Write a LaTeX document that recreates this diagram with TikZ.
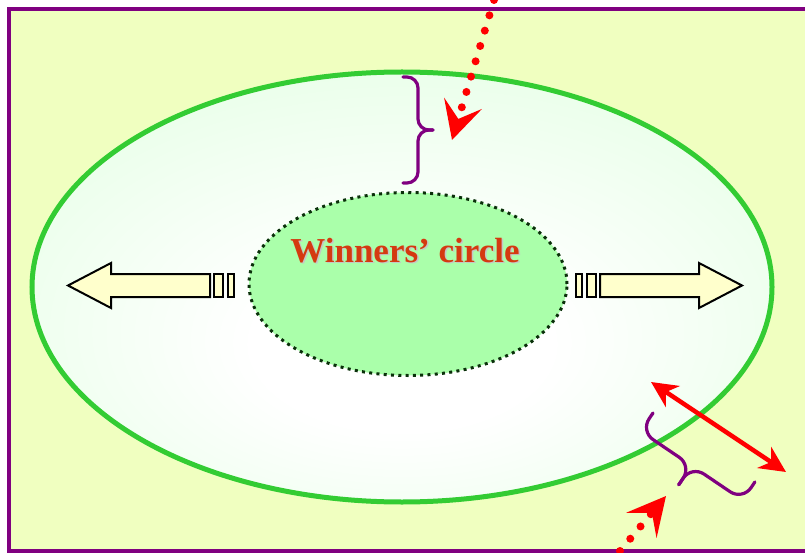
\documentclass[tikz,border=0pt]{standalone}
\usepackage{fontspec}
\setmainfont{Liberation Serif}
\usetikzlibrary{arrows.meta,shapes.geometric}
\definecolor{pagefill}{HTML}{F0FFC0}
\definecolor{framepurple}{HTML}{800080}
\definecolor{ringgreen}{HTML}{33CC33}
\definecolor{corefill}{HTML}{AAFFAA}
\definecolor{coredots}{HTML}{0A300A}
\definecolor{arrowfill}{HTML}{FFFFCC}
\definecolor{titlered}{HTML}{D43A10}
\pgfdeclareradialshading{ringglow}{\pgfpoint{0bp}{-8bp}}{color(0bp)=(white); color(10bp)=(white); color(44bp)=(green!14!white); color(60bp)=(green!17!white)}
\begin{document}
\begin{tikzpicture}[x=1pt, y=-1pt,
    brace line/.style={framepurple, line width=3.2pt, line cap=round},
    block/.style={fill=arrowfill, line width=2pt, line join=miter},
    dotted arrow/.style={red, line width=8pt, line cap=round, dash pattern=on 0pt off 16pt,
      -{Stealth[length=38pt, width=39pt, inset=16pt]}},
    swap arrow/.style={red, line width=4.5pt,
      {Stealth[length=26pt, width=25pt, inset=8pt]}-{Stealth[length=26pt, width=25pt, inset=8pt]}},
    title text/.style={font=\bfseries\fontsize{35}{40}\selectfont, anchor=base}]
    \useasboundingbox (0,0) rectangle (805,553);
    \clip (0,0) rectangle (805,553);
    \fill[pagefill] (9,9) rectangle (830,551);
    \draw[framepurple, line width=3.5pt] (9,9) rectangle (830,551);
    % the two circles
    \node[ellipse, draw=ringgreen, line width=5pt, shading=ringglow, inner sep=0pt,
        minimum width=740pt, minimum height=430pt] (ring) at (402,287) {};
    \node[ellipse, draw=coredots, line width=3pt, dash pattern=on 3pt off 4.3pt, fill=corefill,
        inner sep=0pt, minimum width=318pt, minimum height=183pt] (core) at (408,284) {};
    \node[title text, text=gray!45] (title-shadow) at (406.5,263.5) {Winners’ circle};
    \node[title text, text=titlered] (title) at (405,262) {Winners’ circle};
    % block arrows to both sides
    \foreach \side in {-1,1} {
        \begin{scope}[shift={(405,0)}, xscale=\side]
            \draw[block] (337,285.5) -- (294,263) -- (294,274) -- (195,274)
                -- (195,297) -- (294,297) -- (294,308) -- cycle;
            \draw[block] (182,274) rectangle (191,297);
            \draw[block] (171,274) rectangle (177,297);
        \end{scope}
    }
    % braces, drawn along their own axis (first along, second towards the tip)
    \begin{scope}[shift={(403,77)}, x={(0pt,-1pt)}, y={(1pt,0pt)}]
        \draw[brace line, rounded corners=11pt] (0,0) -- (0,15) -- (53,15) -- (53,30);
        \draw[brace line, rounded corners=11pt] (106,0) -- (106,15) -- (53,15) -- (53,30);
    \end{scope}
    \begin{scope}[shift={(653,413)}, x={(0.8286pt,-0.5605pt)}, y={(-0.5605pt,-0.8286pt)}]
        \draw[brace line, rounded corners=15pt] (0,0) -- (0,22) -- (61.5,22) -- (61.5,45);
        \draw[brace line, rounded corners=15pt] (123,0) -- (123,22) -- (61.5,22) -- (61.5,45);
    \end{scope}
    % red arrows
    \coordinate (entry-from) at (494,0);
    \coordinate (entry-to) at (452,140);
    \draw[dotted arrow] (entry-from) -- (entry-to);
    \coordinate (climb-from) at (620,551);
    \coordinate (climb-to) at (666,496);
    \draw[dotted arrow] (climb-from) -- (climb-to);
    \coordinate (swap-in) at (651,382);
    \coordinate (swap-out) at (786,472);
    \draw[swap arrow] (swap-in) -- (swap-out);
\end{tikzpicture}
\end{document}
